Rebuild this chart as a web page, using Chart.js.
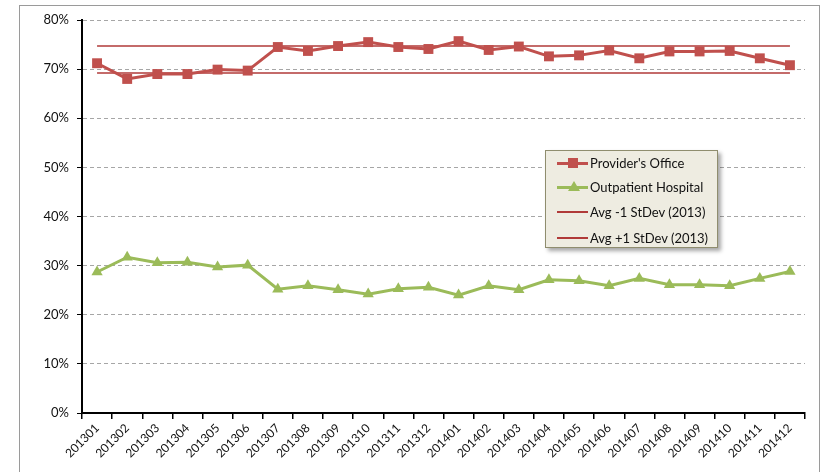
<!DOCTYPE html>
<html>
<head>
<meta charset="utf-8">
<script src="https://cdn.jsdelivr.net/npm/chart.js@4/dist/chart.umd.min.js"></script>
<style>
  html, body { margin: 0; padding: 0; background: #fff; overflow: hidden; }
  #wrap { position: relative; width: 823px; height: 472px; }
  #frame { position: absolute; left: 19px; top: 5px; width: 801px; height: 480px; border: 1px solid #9a9a9a; box-sizing: border-box; }
  canvas { position: absolute; left: 0; top: 0; }
  #legend { position: absolute; left: 545px; top: 150px; width: 173px; height: 98px; box-sizing: border-box;
    background: #EEECE1; border: 1px solid #8f8d6e; box-shadow: 3px 3px 4px rgba(0,0,0,0.35);
    font-family: Lato, "Open Sans", sans-serif; font-size: 13px; color: #111; }
  .row { position: absolute; left: 11px; height: 16px; display: flex; align-items: center; }
  .sw { position: relative; width: 31px; height: 16px; margin-right: 2px; }
  .sw .ln { position: absolute; left: 0; right: 0; top: 7px; }
  .sw .mk { position: absolute; left: 11px; }
</style>
</head>
<body>
<div id="wrap">
  <div id="frame"></div>
  <canvas id="c" width="823" height="472"></canvas>
  <div id="legend"></div>
</div>
<script>
const categories = ['201301','201302','201303','201304','201305','201306','201307','201308','201309','201310','201311','201312',
                    '201401','201402','201403','201404','201405','201406','201407','201408','201409','201410','201411','201412'];
const providersOffice = [71.2,68.0,69.0,69.0,69.9,69.7,74.5,73.7,74.7,75.5,74.5,74.1,
                         75.7,73.9,74.6,72.6,72.8,73.8,72.2,73.6,73.6,73.7,72.2,70.8];
const outpatientHospital = [28.7,31.7,30.6,30.7,29.7,30.1,25.2,25.9,25.1,24.2,25.3,25.6,
                            24.0,25.9,25.1,27.1,26.9,25.9,27.4,26.1,26.1,25.9,27.4,28.8];
const avgMinus1 = 69.2;
const avgPlus1 = 74.7;
const yTicks = [0,10,20,30,40,50,60,70,80];
const seriesNames = ["Provider's Office", 'Outpatient Hospital', 'Avg -1 StDev (2013)', 'Avg +1 StDev (2013)'];

const RED = '#C0504D', GREEN = '#9BBB59', AVG = '#B03A38';
const FONT = 'Lato, "Open Sans", sans-serif';

new Chart(document.getElementById('c'), {
  type: 'line',
  data: {
    labels: categories,
    datasets: [
      { label: seriesNames[0], data: providersOffice, borderColor: RED, backgroundColor: RED, borderWidth: 3,
        pointStyle: 'rect', pointRadius: 7, pointHoverRadius: 7, pointBorderWidth: 0, tension: 0, order: 1 },
      { label: seriesNames[1], data: outpatientHospital, borderColor: GREEN, backgroundColor: GREEN, borderWidth: 3,
        pointStyle: 'triangle', pointRadius: 6.5, pointHoverRadius: 6.5, pointBorderWidth: 0, tension: 0, order: 2 },
      { label: seriesNames[2], data: categories.map(() => avgMinus1), borderColor: AVG, borderWidth: 1.5,
        pointRadius: 0, tension: 0, order: 3 },
      { label: seriesNames[3], data: categories.map(() => avgPlus1), borderColor: AVG, borderWidth: 1.5,
        pointRadius: 0, tension: 0, order: 3 }
    ]
  },
  options: {
    responsive: false,
    animation: false,
    layout: { padding: { left: 0, right: 18, top: 20, bottom: 0 } },
    plugins: { legend: { display: false }, tooltip: { enabled: false } },
    scales: {
      x: {
        type: 'category',
        offset: true,
        grid: { display: true, offset: true, drawOnChartArea: false, drawTicks: true, tickLength: 6, color: '#000', tickColor: '#000', lineWidth: 1.5 },
        border: { display: true, color: '#000', width: 2 },
        ticks: { minRotation: 45, maxRotation: 45, autoSkip: false, color: '#111', padding: 2, font: { family: FONT, size: 12 } },
        afterFit: s => { s.height = 59; }
      },
      y: {
        min: 0, max: 80,
        afterBuildTicks: s => { s.ticks = yTicks.map(v => ({ value: v })); },
        grid: { color: '#a6a6a6', lineWidth: 1, tickColor: '#000', tickLength: 5, drawTicks: true },
        border: { display: true, color: '#000', width: 2, dash: [4, 3] },
        ticks: { color: '#111', padding: 8, font: { family: FONT, size: 13 }, callback: v => v + '%' },
        afterFit: s => { s.width = 82; }
      }
    }
  }
});

// HTML legend with real text
const legend = document.getElementById('legend');
const items = [
  { name: seriesNames[0], color: RED, w: 3, marker: '<div class="mk" style="top:3px;width:10px;height:10px;background:' + RED + '"></div>' },
  { name: seriesNames[1], color: GREEN, w: 3, marker: '<div class="mk" style="top:2px;width:0;height:0;border-left:6px solid transparent;border-right:6px solid transparent;border-bottom:10px solid ' + GREEN + '"></div>' },
  { name: seriesNames[2], color: AVG, w: 1.5, marker: '' },
  { name: seriesNames[3], color: AVG, w: 1.5, marker: '' }
];
const rowTops = [4, 28, 53, 79];
items.forEach((it, i) => {
  const r = document.createElement('div');
  r.className = 'row';
  r.style.top = rowTops[i] + 'px';
  r.innerHTML = '<div class="sw"><div class="ln" style="height:' + it.w + 'px;background:' + it.color + '"></div>' + it.marker + '</div><span>' + it.name + '</span>';
  legend.appendChild(r);
});
</script>
</body>
</html>
